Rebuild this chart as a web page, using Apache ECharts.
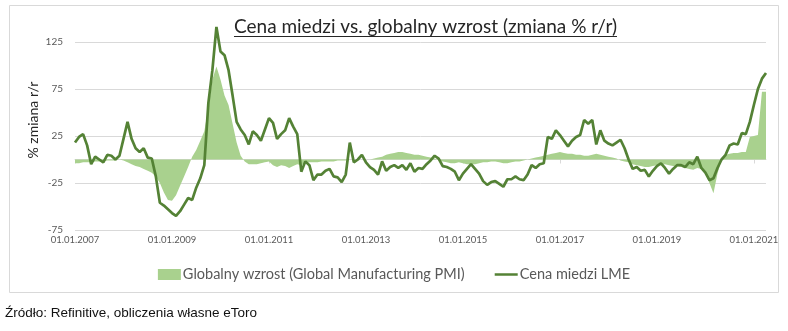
<!DOCTYPE html>
<html><head><meta charset="utf-8">
<script src="https://cdn.jsdelivr.net/npm/echarts@6/dist/echarts.min.js"></script>
<style>html,body{margin:0;padding:0;background:#fff}#c{width:788px;height:331px}</style>
</head><body><div id="c"></div>
<script>
// Monthly values, Jan 2007 .. Apr 2021 (% change y/y)
const copperLME = [
  18, 24, 27, 15, -5, 3, 0, -3, 5, 4,
  0, 4, 22, 40, 22, 12, 8, 12, 2, 1,
  -18, -46, -49, -53, -57, -60, -55, -48, -41, -43,
  -30, -20, -6, 60, 95, 141, 115, 111, 95, 68,
  40, 32, 26, 16, 30, 26, 20, 32, 44, 39,
  22, 27, 31, 44, 35, 27, -13, -2, -6, -22,
  -16, -16, -12, -10, -18, -19, -24, -16, 18, -3,
  0, 5, -3, -8, -11, -16, -2, -12, -8, -6,
  -9, -6, -11, -4, -13, -9, -10, -5, -1, 4,
  1, -7, -8, -10, -13, -22, -15, -10, -5, -10,
  -15, -23, -27, -24, -23, -26, -29, -21, -21, -18,
  -21, -22, -16, -6, -9, -5, -4, 24, 22, 31,
  26, 20, 14, 20, 24, 26, 42, 38, 42, 16,
  31, 20, 17, 15, 18, 21, 12, 0, -10, -8,
  -12, -11, -18, -12, -7, -4, -9, -15, -10, -6,
  -6, -8, -3, -5, 3, -9, -14, -22, -20, -9,
  0, 5, 15, 17, 16, 28, 27, 40, 58, 75,
  86, 92
];
const globalPMI = [
  -4, -4, -3, -3, -3, -2, -2, -2, -1, -1,
  -1, 0, -1, -3, -5, -7, -8, -10, -12, -14,
  -18, -25, -35, -43, -44, -38, -28, -18, -8, 3,
  10, 20, 30, 55, 85, 99, 85, 68, 58, 38,
  18, 4, -2, -5, -5, -5, -4, -3, -2, -6,
  -8, -6, -7, -9, -7, -5, -6, -4, -3, -3,
  -3, -2, -2, -2, -2, -1, -1, -1, 0, 0,
  0, 0, 0, 0, 1, 2, 3, 5, 6, 7,
  8, 8, 7, 6, 5, 5, 4, 3, 2, 1,
  -1, -2, -3, -4, -4, -3, -4, -5, -5, -5,
  -4, -3, -3, -2, -2, -3, -4, -4, -3, -2,
  -2, -1, 0, 1, 2, 3, 4, 5, 6, 7,
  8, 7, 6, 6, 5, 5, 4, 4, 5, 6,
  5, 4, 3, 2, 1, -1, -2, -3, -5, -6,
  -7, -8, -8, -7, -6, -6, -5, -6, -7, -7,
  -8, -9, -10, -11, -9, -10, -15, -25, -36, -15,
  0, 5, 6, 7, 7, 8, 8, 24, 25, 26,
  72, 72
];
const startYear = 2007;
const months = [];
for (let i = 0; i < copperLME.length; i++) {
  const y = startYear + Math.floor(i / 12), m = (i % 12) + 1;
  months.push(y + '-' + (m < 10 ? '0' + m : m));
}
const yMin = -75, yMax = 125, yStep = 50;
const titleText = 'Cena miedzi vs. globalny wzrost (zmiana % r/r)';
const seriesNames = ['Globalny wzrost (Global Manufacturing PMI)', 'Cena miedzi LME'];
const sourceText = 'Źródło: Refinitive, obliczenia własne eToro';

const FONT = 'Lato, "Open Sans", sans-serif';
const cv = document.createElement('canvas').getContext('2d');
cv.font = '19px Lato';
const tw = cv.measureText(titleText).width;
const tcx = 425.5;

const chart = echarts.init(document.getElementById('c'), null, {renderer: 'canvas'});
chart.setOption({
  animation: false,
  backgroundColor: '#fff',
  grid: {left: 75, right: 22, top: 42, bottom: 101, containLabel: false},
  xAxis: [
    {type: 'category', data: months, boundaryGap: false,
     axisLine: {onZero: true, lineStyle: {color: '#d9d9d9', width: 1}},
     axisTick: {show: true, interval: 23, length: 4, lineStyle: {color: '#d9d9d9'}},
     axisLabel: {show: false}, splitLine: {show: false}},
    {type: 'category', data: months, boundaryGap: false, position: 'bottom',
     axisLine: {show: false, onZero: false}, axisTick: {show: false},
     axisLabel: {interval: 23, formatter: v => '01.01.' + v.slice(0, 4),
       fontSize: 9.5, color: '#595959', fontFamily: FONT, margin: 5}}
  ],
  yAxis: {type: 'value', min: yMin, max: yMax, interval: yStep,
    axisLine: {show: false}, axisTick: {show: false},
    splitLine: {lineStyle: {color: '#d9d9d9', width: 1}},
    axisLabel: {fontSize: 10, color: '#595959', fontFamily: FONT, margin: 12}},
  legend: {
    left: 'center', top: 262, itemWidth: 23, itemHeight: 11, itemGap: 30,
    textStyle: {fontSize: 14.5, color: '#595959', fontFamily: FONT, padding: [0, 0, 0, -3]},
    data: [{name: seriesNames[0], icon: 'rect'},
           {name: seriesNames[1], icon: 'path://M0,0H23V2.5H0Z'}]
  },
  series: [
    {name: seriesNames[0], type: 'line', data: globalPMI, symbol: 'none', showSymbol: false,
     color: '#a9d18e', lineStyle: {width: 0, color: '#a9d18e'},
     areaStyle: {color: '#a9d18e', opacity: 1}, z: 1},
    {name: seriesNames[1], type: 'line', data: copperLME, symbol: 'none', showSymbol: false,
     clip: false,
     color: '#548235', lineStyle: {width: 2.7, color: '#548235'}, z: 3}
  ],
  graphic: [
    {type: 'rect', silent: true, z: -10,
     shape: {x: 9.5, y: 5.5, width: 769, height: 287},
     style: {fill: 'none', stroke: '#d9d9d9', lineWidth: 1}},
    {type: 'text', x: tcx, y: 27, silent: true,
     style: {text: titleText, font: '19px ' + FONT, fill: '#262626', align: 'center', verticalAlign: 'middle'}},
    {type: 'line', silent: true,
     shape: {x1: tcx - tw / 2, y1: 36.5, x2: tcx + tw / 2, y2: 36.5},
     style: {stroke: '#262626', lineWidth: 1}},
    {type: 'text', x: 33, y: 120, rotation: Math.PI / 2, silent: true,
     style: {text: '% zmiana r/r', font: '14px ' + FONT, fill: '#262626', align: 'center', verticalAlign: 'middle'}},
    {type: 'text', x: 5, y: 313, silent: true,
     style: {text: sourceText, font: '13.5px "Liberation Sans Narrow", "Liberation Sans", Arial, sans-serif', fill: '#111', verticalAlign: 'middle'}}
  ]
});
</script>
</body></html>
